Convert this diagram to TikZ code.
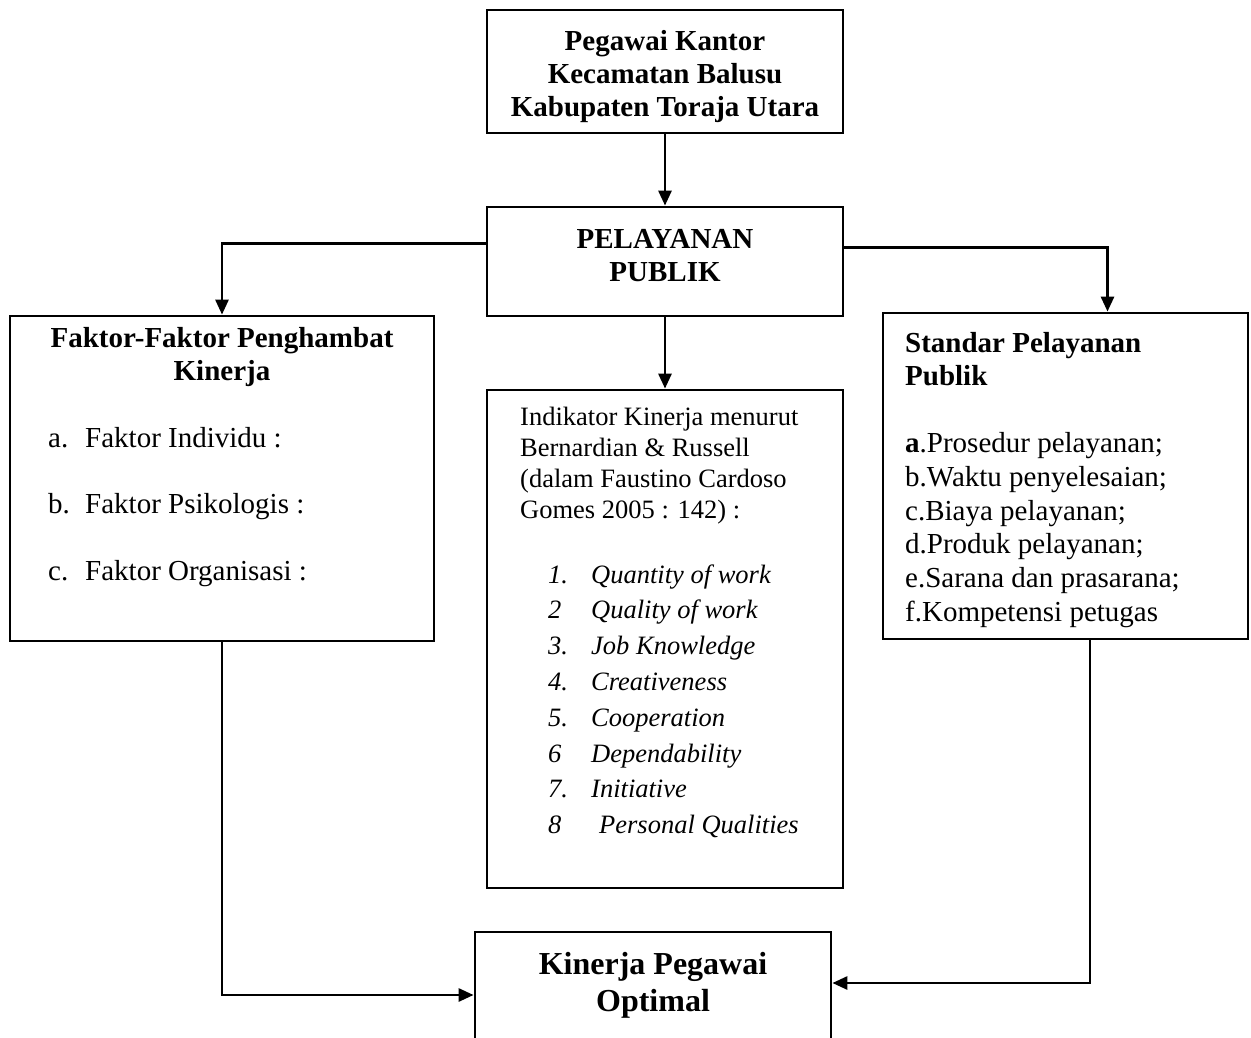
\documentclass[tikz,border=0pt]{standalone}
\usepackage{fontspec}
\setmainfont{Liberation Serif}
\usetikzlibrary{arrows.meta}
\begin{document}
\begin{tikzpicture}[x=1pt,y=-1pt,
  box/.style={draw=black, line width=2.8pt, rectangle, inner sep=0pt},
  conn/.style={line width=2.8pt, -{Triangle[length=15pt,width=13pt]}},
  bigb/.style={font=\fontsize{29}{33}\selectfont\bfseries, align=center, inner sep=0pt},
  reg/.style={font=\fontsize{29}{33}\selectfont, inner sep=0pt, anchor=base west},
  regb/.style={font=\fontsize{29}{33}\selectfont\bfseries, inner sep=0pt, anchor=base west},
  mid/.style={font=\fontsize{26.5}{31}\selectfont, inner sep=0pt, anchor=base west},
  midi/.style={font=\fontsize{26.5}{31}\selectfont\itshape, inner sep=0pt, anchor=base west}
]
\useasboundingbox[fill=white] (0,0) rectangle (1251,1038);

% boxes
\node[box, minimum width=356pt, minimum height=123pt] (top) at (665,71.5) {};
\node[bigb] (toptxt) at (665,76.5) {Pegawai Kantor\\Kecamatan Balusu\\Kabupaten Toraja Utara};
\node[box, minimum width=356pt, minimum height=109pt] (pel) at (665,261.5) {};
\node[bigb] (peltxt) at (665,256) {PELAYANAN\\PUBLIK};
\node[box, minimum width=424pt, minimum height=325pt] (lbox) at (222,478.5) {};
\node[box, minimum width=356pt, minimum height=498pt] (mbox) at (665,639) {};
\node[box, minimum width=365pt, minimum height=326pt] (rbox) at (1065.5,476) {};
\node[box, minimum width=356pt, minimum height=116pt] (bot) at (653,990) {};
\node[font=\fontsize{32}{37}\selectfont\bfseries, align=center, inner sep=0pt] (bottxt) at (653,985.5)
  {Kinerja Pegawai\\Optimal};

% left box text
\node[bigb, anchor=base] (lt1) at (222,347) {Faktor-Faktor Penghambat};
\node[bigb, anchor=base] (lt2) at (222,380) {Kinerja};
\node[reg] (la) at (48,447) {a.};
\node[reg] (lat) at (85,447) {Faktor Individu :};
\node[reg] (lb) at (48,513) {b.};
\node[reg] (lbt) at (85,513) {Faktor Psikologis :};
\node[reg] (lc) at (48,580) {c.};
\node[reg] (lct) at (85,580) {Faktor Organisasi :};

% middle box text
\node[mid] (m1) at (520,425) {Indikator Kinerja menurut};
\node[mid] (m2) at (520,456) {Bernardian \& Russell};
\node[mid] (m3) at (520,487) {(dalam Faustino Cardoso};
\node[mid] (m4) at (520,518) {Gomes 2005 : 142) :};
\node[midi] (n1) at (548,583.0) {1.};
\node[midi] (i1) at (591,583.0) {Quantity of work};
\node[midi] (n2) at (548,618.8) {2};
\node[midi] (i2) at (591,618.8) {Quality of work};
\node[midi] (n3) at (548,654.6) {3.};
\node[midi] (i3) at (591,654.6) {Job Knowledge};
\node[midi] (n4) at (548,690.4) {4.};
\node[midi] (i4) at (591,690.4) {Creativeness};
\node[midi] (n5) at (548,726.2) {5.};
\node[midi] (i5) at (591,726.2) {Cooperation};
\node[midi] (n6) at (548,762.0) {6};
\node[midi] (i6) at (591,762.0) {Dependability};
\node[midi] (n7) at (548,797.8) {7.};
\node[midi] (i7) at (591,797.8) {Initiative};
\node[midi] (n8) at (548,833.6) {8};
\node[midi] (i8) at (599,833.6) {Personal Qualities};

% right box text
\node[regb] (rt1) at (905,352) {Standar Pelayanan};
\node[regb] (rt2) at (905,385) {Publik};
\node[reg] (r1) at (905,452) {\textbf{a}.Prosedur pelayanan;};
\node[reg] (r2) at (905,486) {b.Waktu penyelesaian;};
\node[reg] (r3) at (905,520) {c.Biaya pelayanan;};
\node[reg] (r4) at (905,553) {d.Produk pelayanan;};
\node[reg] (r5) at (905,587) {e.Sarana dan prasarana;};
\node[reg] (r6) at (905,621) {f.Kompetensi petugas};

% connectors
\draw[conn] (top.south) -- (pel.north);
\draw[conn] (pel.south) -- (mbox.north);
\draw[conn] ([yshift=18pt]pel.west) -| (lbox.north);
\draw[conn] ([yshift=14pt]pel.east) -| ([xshift=42pt]rbox.north);
\draw[conn] (lbox.south) |- ([yshift=-5pt]bot.west);
\draw[conn] ([xshift=24.5pt]rbox.south) |- ([yshift=7pt]bot.east);
\end{tikzpicture}
\end{document}
